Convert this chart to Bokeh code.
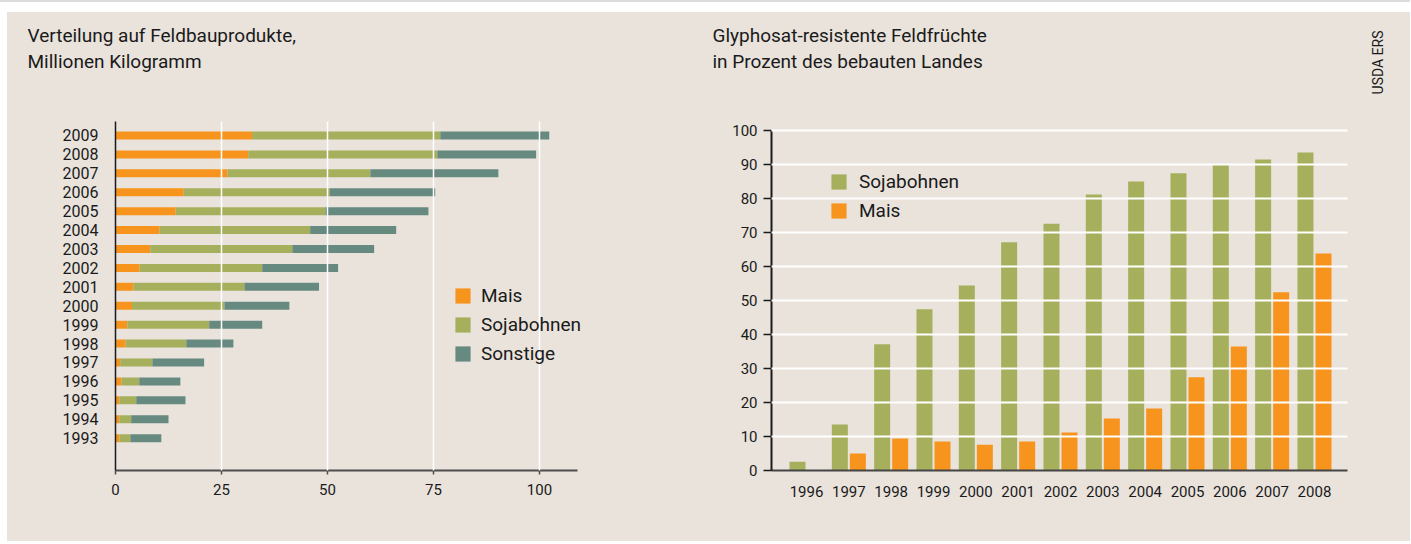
import math
from bokeh.plotting import figure
from bokeh.models import (Range1d, FixedTicker, Legend, LegendItem, Title,
                          Spacer, ColumnDataSource)
from bokeh.layouts import row, column
from bokeh.transform import dodge
from bokeh.embed import file_html
from bokeh.resources import INLINE

FONT = "Roboto"
BG = "#e9e3dc"
ORANGE = "#f7941d"
GREEN = "#a6b05c"
TEAL = "#678a80"
INK = "#1a1a1a"

# ---- left chart data (Millionen Kilogramm) ----
years_left = [1993, 1994, 1995, 1996, 1997, 1998, 1999, 2000, 2001,
              2002, 2003, 2004, 2005, 2006, 2007, 2008, 2009]
mais_kg = [0.9, 0.9, 0.9, 1.4, 1.1, 2.4, 2.8, 3.9, 4.2,
           5.7, 8.2, 10.4, 14.2, 16.1, 26.4, 31.3, 32.2]
soja_kg = [2.6, 2.8, 4.0, 4.2, 7.6, 14.3, 19.3, 21.8, 26.2,
           28.9, 33.5, 35.5, 35.3, 34.4, 33.7, 44.6, 44.4]
sonstige_kg = [7.3, 8.8, 11.6, 9.7, 12.2, 11.1, 12.5, 15.3, 17.6,
               17.9, 19.3, 20.3, 24.3, 24.9, 30.2, 23.3, 25.7]
x_ticks_left = [0, 25, 50, 75, 100]
series_left = ["Mais", "Sojabohnen", "Sonstige"]

# ---- right chart data (Prozent) ----
years_right = [1996, 1997, 1998, 1999, 2000, 2001, 2002,
               2003, 2004, 2005, 2006, 2007, 2008]
soja_pct = [2.6, 13.5, 37.1, 47.4, 54.4, 67.1, 72.6,
            81.2, 85.0, 87.4, 89.9, 91.5, 93.5]
mais_pct = [0.0, 5.0, 9.4, 8.5, 7.6, 8.5, 11.2,
            15.3, 18.2, 27.4, 36.5, 52.4, 63.8]
y_ticks_right = [0, 10, 20, 30, 40, 50, 60, 70, 80, 90, 100]

H = 529
TOP = 109
BOTTOM = 71


def style_fig(p):
    p.background_fill_color = BG
    p.border_fill_color = BG
    p.outline_line_color = None


def add_titles(p, line1, line2, offset):
    # titles stack outward from the frame: blank gap filler, line 2, line 1
    p.add_layout(Title(text=" ", standoff=24, offset=offset,
                       text_font=FONT, text_font_size="19px",
                       text_font_style="normal", text_color=BG), "above")
    p.add_layout(Title(text=line2, align="left", offset=offset, standoff=0,
                       text_font=FONT, text_font_size="19px",
                       text_font_style="normal", text_color=INK), "above")
    p.add_layout(Title(text=line1, align="left", offset=offset, standoff=2,
                       text_font=FONT, text_font_size="19px",
                       text_font_style="normal", text_color=INK), "above")


# ================= LEFT =================
src_l = ColumnDataSource(dict(year=years_left, Mais=mais_kg,
                              Sojabohnen=soja_kg, Sonstige=sonstige_kg))
p1 = figure(width=693, height=H,
            x_range=Range1d(0, 119.1), y_range=Range1d(1991.29, 2009.74),
            output_backend="svg", toolbar_location=None,
            min_border_left=108, min_border_right=80,
            min_border_top=TOP, min_border_bottom=BOTTOM)
style_fig(p1)
rs = p1.hbar_stack(series_left, y="year", height=0.42, source=src_l,
                   fill_color=[ORANGE, GREEN, TEAL], line_color=None)

xa = p1.xaxis[0]
xa.ticker = FixedTicker(ticks=x_ticks_left)
xa.bounds = (0, 108.96)
xa.axis_line_color = "#4d4d4d"
xa.axis_line_width = 2
xa.major_tick_line_color = "#4d4d4d"
xa.major_tick_line_width = 1.5
xa.major_tick_out = 4
xa.major_tick_in = 0
xa.minor_tick_line_color = None
xa.major_label_standoff = 9
xa.major_label_text_font = FONT
xa.major_label_text_font_size = "15px"
xa.major_label_text_color = INK

ya = p1.yaxis[0]
ya.ticker = FixedTicker(ticks=years_left)
ya.axis_line_color = INK
ya.axis_line_width = 1.5
ya.major_tick_line_color = None
ya.minor_tick_line_color = None
ya.major_label_standoff = 11
ya.major_label_text_font = FONT
ya.major_label_text_font_size = "16px"
ya.major_label_text_color = INK

p1.xgrid.ticker = FixedTicker(ticks=[25, 50, 75, 100])
p1.xgrid.grid_line_color = "white"
p1.xgrid.grid_line_width = 1.5
p1.xgrid.level = "overlay"
p1.ygrid.grid_line_color = None

leg1 = Legend(items=[LegendItem(label=n, renderers=[r]) for n, r in zip(series_left, rs)],
              location=(338, 105), glyph_width=19, glyph_height=19,
              label_height=19, spacing=6, padding=0, margin=0,
              label_standoff=9, background_fill_alpha=0,
              border_line_color=None, label_text_font=FONT,
              label_text_font_size="19px", label_text_color=INK)
p1.add_layout(leg1)
add_titles(p1, "Verteilung auf Feldbauprodukte,", "Millionen Kilogramm", -88)

# ================= RIGHT =================
src_r = ColumnDataSource(dict(year=years_right, soja=soja_pct, mais=mais_pct))
p2 = figure(width=660, height=H,
            x_range=Range1d(1995.173, 2008.78), y_range=Range1d(0, 102.65),
            output_backend="svg", toolbar_location=None,
            min_border_left=71, min_border_right=13,
            min_border_top=TOP, min_border_bottom=BOTTOM)
style_fig(p2)
r_s = p2.vbar(x=dodge("year", -0.213), top="soja", width=0.378, source=src_r,
              fill_color=GREEN, line_color=None)
r_m = p2.vbar(x=dodge("year", 0.213), top="mais", width=0.378, source=src_r,
              fill_color=ORANGE, line_color=None)

xb = p2.xaxis[0]
xb.ticker = FixedTicker(ticks=years_right)
xb.axis_line_color = "#444444"
xb.axis_line_width = 2
xb.major_tick_line_color = None
xb.minor_tick_line_color = None
xb.major_label_standoff = 9
xb.major_label_text_font = FONT
xb.major_label_text_font_size = "15px"
xb.major_label_text_color = INK

yb = p2.yaxis[0]
yb.ticker = FixedTicker(ticks=y_ticks_right)
yb.bounds = (0, 100)
yb.axis_line_color = INK
yb.axis_line_width = 2
yb.major_tick_line_color = INK
yb.major_tick_line_width = 1.5
yb.major_tick_out = 8
yb.major_tick_in = 0
yb.minor_tick_line_color = None
yb.major_label_standoff = 6
yb.major_label_text_font = FONT
yb.major_label_text_font_size = "15px"
yb.major_label_text_color = INK

p2.ygrid.ticker = FixedTicker(ticks=y_ticks_right[1:])
p2.ygrid.grid_line_color = "white"
p2.ygrid.grid_line_width = 2
p2.ygrid.level = "overlay"
p2.xgrid.grid_line_color = None

leg2 = Legend(items=[LegendItem(label="Sojabohnen", renderers=[r_s]),
                     LegendItem(label="Mais", renderers=[r_m])],
              location=(58, 248), glyph_width=19, glyph_height=19,
              label_height=19, spacing=6, padding=0, margin=0,
              label_standoff=11, background_fill_alpha=0,
              border_line_color=None, label_text_font=FONT,
              label_text_font_size="19px", label_text_color=INK)
p2.add_layout(leg2)
add_titles(p2, "Glyphosat-resistente Feldfrüchte", "in Prozent des bebauten Landes", -59)

# ================= source note =================
p3 = figure(width=50, height=H, x_range=Range1d(0, 1), y_range=Range1d(0, 1),
            output_backend="svg", toolbar_location=None,
            x_axis_location=None, y_axis_location=None,
            min_border_left=30, min_border_right=0,
            min_border_top=TOP, min_border_bottom=BOTTOM)
style_fig(p3)
p3.grid.visible = False
p3.add_layout(Title(text="USDA ERS", align="right", offset=-91, standoff=10,
                    text_font=FONT, text_font_size="14px",
                    text_font_style="normal", text_color=INK), "left")

charts = row(p1, p2, p3, styles={"background-color": BG})
layout = column(Spacer(height=2, width=1410, styles={"background-color": "#dcdcdc"}),
                Spacer(height=10),
                row(Spacer(width=7), charts))
open("out.html", "w").write(file_html(layout, INLINE))
